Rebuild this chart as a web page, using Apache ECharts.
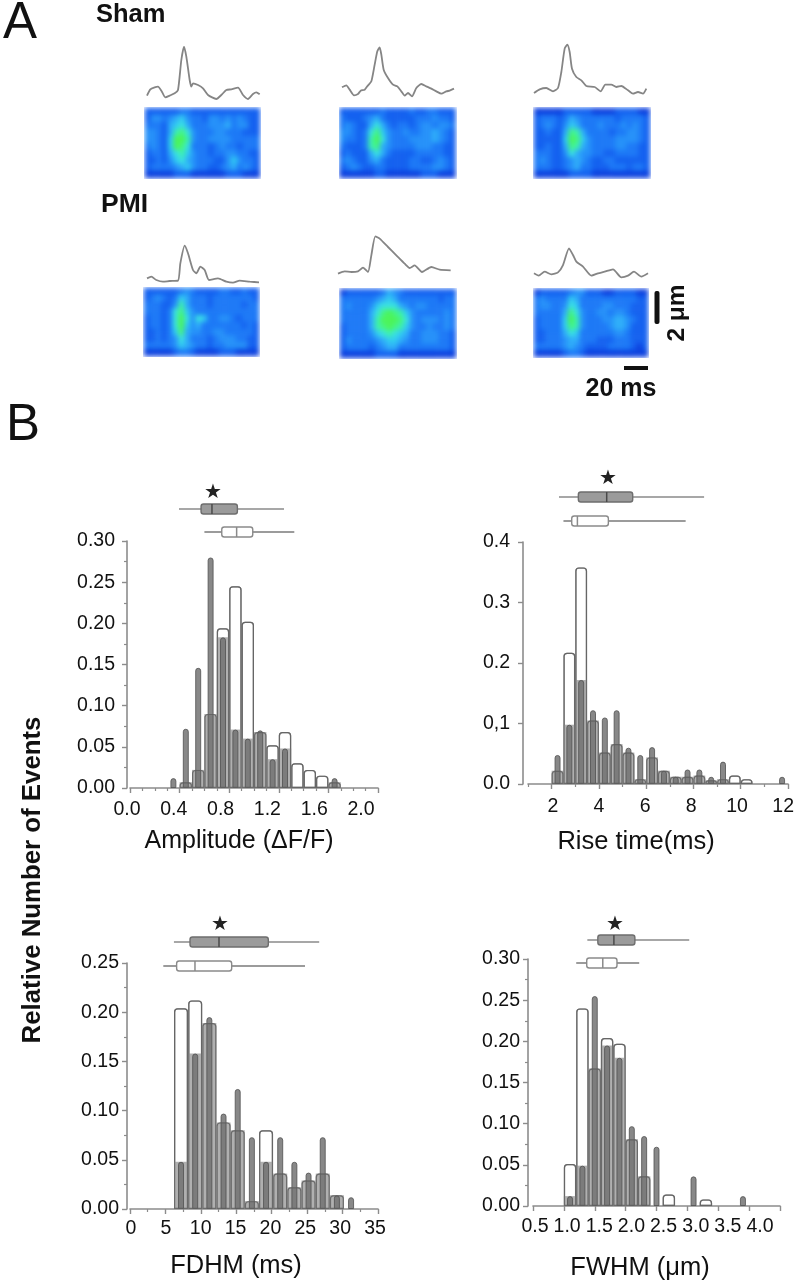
<!DOCTYPE html>
<html><head><meta charset="utf-8">
<style>html,body{margin:0;padding:0;background:#fff;width:797px;height:1280px;overflow:hidden}
#clip{position:absolute;left:0;top:0;width:797px;height:400px;clip-path:path('M144 107H261V179H144Z M339 107H457V179H339Z M533 107H651V179H533Z M143 287H260V357H143Z M339 288H457V359H339Z M533 288H649V358H533Z')}
#heat{position:absolute;left:0;top:0;width:797px;height:400px;filter:blur(2.6px) saturate(1.1)}
#main{position:absolute;left:0;top:0;width:797px;height:1280px;filter:blur(.4px)}</style>
<script src="https://cdn.jsdelivr.net/npm/echarts@6/dist/echarts.min.js"></script>
</head><body><div id="clip"><div id="heat"></div></div><div id="main"></div>
<script>
// ---------- Histogram data ----------
const ampBins=[.35,.45,.55,.65,.75,.85,.95,1.05,1.15,1.25,1.35,1.45,1.55,1.65];
const ampSham=[0,.007,.022,.09,.194,.245,.202,.068,.052,.068,.03,.022,.015,.007];
const ampPmi=[.012,.072,.146,.28,.183,.071,.06,.07,.035,.048,0,0,0,.012];
const ampXLabels=['0.0','0.4','0.8','1.2','1.6','2.0'];
const ampYLabels=['0.00','0.05','0.10','0.15','0.20','0.25','0.30'];
const ampBoxPmi=[.395,.573,.661,.866,1.242];
const ampBoxSham=[.60,.74,.86,.99,1.325];

const riseBins=[2.25,2.75,3.25,3.75,4.25,4.75,5.25,5.75,6.25,6.75,7.25,7.75,8.25,8.75,9.25,9.75,10.25,10.75,11.25,11.75];
const riseSham=[.022,.217,.358,.105,.052,.066,.052,.008,.044,.022,.012,.012,.014,.006,.008,.014,.008,0,0,0];
const risePmi=[.048,.098,.172,.122,.11,.122,.06,.048,.061,.022,.012,.024,.024,.012,.037,0,0,0,0,.012];
const riseXLabels=['2','4','6','8','10','12'];
const riseYLabels=['0.0','0,1','0.2','0.3','0.4'];
const riseBoxPmi=[2.31,3.13,4.33,5.43,8.45];
const riseBoxSham=[2.5,2.85,3.09,4.4,7.67];

const fdhmBins=[7.2,9.2,11.2,13.2,15.2,17.2,19.2,21.2,23.2,25.2,27.2,29.2,31.2];
const fdhmSham=[.204,.212,.189,.088,.08,.008,.08,.036,.022,.029,.036,.014,0];
const fdhmPmi=[.048,.158,.195,.097,.122,.073,.048,.073,.048,.037,.073,.014,.012];
const fdhmXLabels=['0','5','10','15','20','25','30','35'];
const fdhmYLabels=['0.00','0.05','0.10','0.15','0.20','0.25'];
const fdhmBoxPmi=[6.2,8.47,12.56,19.52,26.7];
const fdhmBoxSham=[4.7,6.58,9.17,14.35,24.7];

const fwhmBins=[1.1,1.3,1.5,1.7,1.9,2.1,2.3,2.5,2.7,2.9,3.1,3.3,3.5,3.7,3.9];
const fwhmSham=[.051,.24,.167,.204,.197,.081,.036,0,.014,0,0,.008,0,0,0];
const fwhmPmi=[.012,.049,.255,.195,.18,.097,.085,.072,0,0,.036,0,0,0,.012];
const fwhmXLabels=['0.5','1.0','1.5','2.0','2.5','3.0','3.5','4.0'];
const fwhmYLabels=['0.00','0.05','0.10','0.15','0.20','0.25','0.30'];
const fwhmBoxPmi=[1.38,1.55,1.81,2.15,3.03];
const fwhmBoxSham=[1.2,1.37,1.63,1.86,2.22];

// ---------- Line-scan traces (time, fluorescence; arbitrary units) ----------
const traceT1=[0,10,23,33,43,55,68,83,93,103,111,118,128,133,138,153,168,183,208,223,238,253,273,288,303,318,328,338];
const traceF1=[13,32,38,40,28,8,13,20,30,120,160,130,60,40,50,45,35,15,3,15,30,32,37,15,3,18,23,17];
const traceT2=[0,13,23,36,48,56,68,78,88,98,106,113,118,125,138,153,166,178,188,198,210,223,238,253,268,283,298,313,323,336];
const traceF2=[32,38,25,8,12,22,25,38,50,100,140,152,130,85,60,40,35,20,7,15,5,30,42,35,28,20,13,20,22,28];
const traceT3=[0,17,37,57,72,82,92,100,107,114,127,142,157,182,200,214,232,247,262,282,297,312,327,337];
const traceF3=[12,23,27,17,27,75,145,157,135,85,60,50,33,30,17,37,37,30,33,20,10,15,10,25];
const traceT4=[0,13,28,48,68,93,100,113,123,138,148,160,173,186,213,238,258,278,308,336];
const traceF4=[20,25,15,10,12,13,65,118,95,45,35,55,45,15,20,10,7,13,10,8];
const traceT5=[0,20,40,60,75,90,100,112,125,150,175,200,215,230,252,280,305,338];
const traceF5=[10,17,15,17,28,15,65,122,115,90,65,40,27,35,15,30,22,20];
const traceT6=[0,14,32,52,72,87,105,117,127,147,172,192,212,237,262,282,300,322,342];
const traceF6=[20,13,25,17,23,45,95,75,55,40,13,20,25,32,8,13,25,10,20];

// ---------- Confocal line-scan images (digit = intensity level 0-9) ----------
const heat1=["11111122111111111111","13323453221332323211","22214564222333423311","33214786322233222111","33215997322333322222","23215986222123221222","12214675322122332211","11213564322211353221","12222345322112342321","00000111000000111000"];
const heat2=["11111112111121122111","21112342111112223221","23211464212212332332","33212685322322334321","32212796322233334321","21112784322223332211","12111464211112222211","23211342111122112321","12321122111122223321","00000011000000111000"];
const heat3=["00000111110000111100","12221243222222122221","12321354222322232321","11211487422221223321","11111598532222333321","11211487432222332211","22211364332211222211","23211234321122111111","22211234221112221221","00000011110000000000"];
const heat4=["11111123211112211211","12321254222122222221","22211374222122222122","22212685322222222222","12212696365223321222","12212695342222222121","11212584332233222221","11212364222123332211","22222354322122333311","00000122100001110000"];
const heat5=["01111112432111111111","22222234542222222122","23222356664323322222","22222468987532222232","22222479998632333232","12222478987532232232","12222356765422333221","13222234554322333221","12222123442222222221","00000011110000000000"];
const heat6=["01111123311100111100","23222254222222222211","23322365222233222111","22222486322332332111","12222597322233443211","12222587322223443111","11222465222222332111","11222344222111222111","22222343211112222101","00000122100000000000"];
const heatColors=['#1040d0','#1a60e2','#2478ea','#2e90ee','#38acf0','#3cc8eb','#46e0dc','#48ecb0','#50f088','#55f060'];

// ---------- Layout ----------
const FONT='"Liberation Sans",Arial,sans-serif';
const AXIS='#8c8c8c';
const panels=[
 {bins:ampBins,sham:ampSham,pmi:ampPmi,xl:ampXLabels,yl:ampYLabels,bp:ampBoxPmi,bs:ampBoxSham,
  left:130,right:378,top:541,bottom:788,xmin:0,xmax:2,xint:.4,xMinor:4,ymax:.3,yint:.05,yMinor:2,yOff:3,yMargin:12,
  labL:127,labR:361,labM:12,wS:12.4,wP:6,rowP:509,rowS:532,star:[213,493]},
 {bins:riseBins,sham:riseSham,pmi:risePmi,xl:riseXLabels,yl:riseYLabels,bp:riseBoxPmi,bs:riseBoxSham,
  left:528,right:788,top:542,bottom:784,xmin:1,xmax:12,xCustom:[2,4,6,8,10,12],xMinorCustom:[1,3,5,7,9,11],ymax:.4,yint:.1,yMinor:1,yOff:5,yMargin:13,
  labL:553,labR:787,labM:13,wS:11.8,wP:6,rowP:497,rowS:521,star:[608,479]},
 {bins:fdhmBins,sham:fdhmSham,pmi:fdhmPmi,xl:fdhmXLabels,yl:fdhmYLabels,bp:fdhmBoxPmi,bs:fdhmBoxSham,
  left:130,right:378,top:963,bottom:1209,xmin:0,xmax:35,xint:5,xMinor:2,ymax:.25,yint:.05,yMinor:2,yOff:3,yMargin:8,
  labL:131,labR:375,labM:10,wS:14,wP:6,rowP:942,rowS:966,star:[220,925]},
 {bins:fwhmBins,sham:fwhmSham,pmi:fwhmPmi,xl:fwhmXLabels,yl:fwhmYLabels,bp:fwhmBoxPmi,bs:fwhmBoxSham,
  left:533,right:780,top:959,bottom:1206,xmin:.5,xmax:4.5,xint:.5,xMinor:1,ymax:.3,yint:.05,yMinor:2,yOff:5,yMargin:8,
  labL:535,labR:760,labM:11,wS:12.4,wP:6,rowP:940,rowS:963,star:[615,925]}
];
const traces=[
 {t:traceT1,f:traceF1,left:147,bottom:100},{t:traceT2,f:traceF2,left:342,bottom:98},{t:traceT3,f:traceF3,left:534,bottom:97},
 {t:traceT4,f:traceF4,left:147,bottom:285},{t:traceT5,f:traceF5,left:338,bottom:277},{t:traceT6,f:traceF6,left:534,bottom:280}];
const heats=[
 {d:heat1,x:145,y:108,w:115,h:70},{d:heat2,x:339.5,y:108,w:116,h:70},{d:heat3,x:534,y:108,w:116,h:70},
 {d:heat4,x:144,y:288,w:115,h:68},{d:heat5,x:340,y:289,w:116,h:69},{d:heat6,x:534,y:289,w:114,h:68}];

// ---------- Main chart ----------
const grid=[],xAxis=[],yAxis=[],series=[];
const hiddenVal=(extra)=>Object.assign({type:'value',show:false,scale:true},extra);
function addGrid(l,t,w,h){grid.push({left:l,top:t,width:w,height:h,containLabel:false});return grid.length-1;}

traces.forEach(tr=>{
  const g=addGrid(tr.left,tr.bottom-60,115,60);
  xAxis.push(hiddenVal({gridIndex:g,min:0,max:345}));
  yAxis.push(hiddenVal({gridIndex:g,min:0,max:180}));
  series.push({type:'line',xAxisIndex:xAxis.length-1,yAxisIndex:yAxis.length-1,showSymbol:false,smooth:.2,
    lineStyle:{color:'#858585',width:1.8},silent:true,data:tr.t.map((v,i)=>[v,tr.f[i]])});
});

const pairs=(b,v)=>b.map((x,i)=>[x,v[i]>0?v[i]:null]);
const axLine={lineStyle:{color:AXIS,width:1.6}};
panels.forEach(p=>{
  const w=p.right-p.left,h=p.bottom-p.top;
  const g=addGrid(p.left,p.top,w,h);
  const major={length:5,lineStyle:{color:AXIS,width:1.4}};
  if(p.xCustom) major.customValues=p.xCustom;
  xAxis.push({type:'value',gridIndex:g,min:p.xmin,max:p.xmax,interval:p.xint,position:'bottom',splitLine:{show:false},
    axisLine:Object.assign({onZero:false},axLine),axisTick:major,axisLabel:{show:false},
    minorTick:p.xMinor>1?{show:true,splitNumber:p.xMinor,length:3,lineStyle:{color:AXIS,width:1.2}}:{show:false}});
  const xS=xAxis.length-1;
  const pmiTick=p.xMinorCustom?{show:true,customValues:p.xMinorCustom,length:3,lineStyle:{color:AXIS,width:1.2}}:{show:false};
  xAxis.push({type:'value',gridIndex:g,min:p.xmin,max:p.xmax,position:'bottom',splitLine:{show:false},
    axisLine:{show:false,onZero:false},axisTick:pmiTick,axisLabel:{show:false}});
  const xP=xAxis.length-1;
  yAxis.push({type:'value',gridIndex:g,min:0,max:p.ymax,interval:p.yint,offset:p.yOff,splitLine:{show:false},
    axisLine:{show:true,onZero:false,lineStyle:{color:AXIS,width:1.6}},
    axisTick:{show:true,length:5,lineStyle:{color:AXIS,width:1.4}},
    minorTick:p.yMinor>1?{show:true,splitNumber:p.yMinor,length:3,lineStyle:{color:AXIS,width:1.2}}:{show:false},
    axisLabel:{margin:p.yMargin,fontFamily:FONT,fontSize:19.5,color:'#111',showMinLabel:true,showMaxLabel:true,
      formatter:v=>p.yl[Math.round(v/p.yint)]}});
  const y=yAxis.length-1;
  const common={type:'bar',xAxisIndex:xS,yAxisIndex:y,barGap:'-100%',barWidth:p.wS,silent:true,animation:false};
  series.push(Object.assign({},common,{name:'Sham',z:2,data:pairs(p.bins,p.sham),
    itemStyle:{color:'#fff',borderColor:'#8a8a8a',borderWidth:1.3,borderRadius:[3,3,0,0]}}));
  series.push(Object.assign({},common,{name:'Overlap',z:3,data:pairs(p.bins,p.sham.map((v,i)=>Math.min(v,p.pmi[i]))),
    itemStyle:{color:'#b0b0b0',borderWidth:0}}));
  series.push({type:'bar',xAxisIndex:xP,yAxisIndex:y,barWidth:p.wP,silent:true,name:'PMI',z:4,data:pairs(p.bins,p.pmi),
    itemStyle:{color:'rgba(115,115,115,.85)',borderColor:'rgba(80,80,80,.8)',borderWidth:1,borderRadius:[3,3,0,0]}});
  series.push(Object.assign({},common,{name:'Sham outline',z:5,data:pairs(p.bins,p.sham),
    itemStyle:{color:'rgba(0,0,0,0)',borderColor:'rgba(95,95,95,.85)',borderWidth:1.2,borderRadius:[3,3,0,0]}}));

  const gl=addGrid(p.labL,p.bottom-10,p.labR-p.labL,10);
  xAxis.push({type:'category',gridIndex:gl,boundaryGap:false,data:p.xl,axisLine:{show:false},axisTick:{show:false},splitLine:{show:false},
    axisLabel:{margin:p.labM,interval:0,fontFamily:FONT,fontSize:19.5,color:'#111'}});
  yAxis.push(hiddenVal({gridIndex:gl,min:0,max:1}));

  const d=p.rowS-p.rowP;
  const gb=addGrid(p.left,p.rowP-d/2,w,2*d);
  xAxis.push(hiddenVal({gridIndex:gb,min:p.xmin,max:p.xmax}));
  yAxis.push({type:'category',gridIndex:gb,show:false,inverse:true,data:['PMI','Sham']});
  series.push({type:'custom',xAxisIndex:xAxis.length-1,yAxisIndex:yAxis.length-1,silent:true,clip:false,
    data:[[0].concat(p.bp),[1].concat(p.bs)],
    encode:{x:[1,2,3,4,5],y:0},
    renderItem:(params,api)=>{
      const row=api.value(0),pm=row===0;
      const c=i=>api.coord([api.value(i),row]);
      const mn=c(1),q1=c(2),md=c(3),q3=c(4),mx=c(5),cy=mn[1];
      const line={stroke:pm?'#8a8a8a':'#7a7a7a',lineWidth:1.5};
      return {type:'group',children:[
        {type:'line',shape:{x1:mn[0],y1:cy,x2:mx[0],y2:cy},style:line},
        {type:'rect',shape:{x:q1[0],y:cy-5,width:q3[0]-q1[0],height:10,r:2.5},
          style:{fill:pm?'#9b9b9b':'#fff',stroke:pm?'#6e6e6e':'#8a8a8a',lineWidth:1.4}},
        {type:'line',shape:{x1:md[0],y1:cy-5,x2:md[0],y2:cy+5},style:{stroke:pm?'#4a4a4a':'#8a8a8a',lineWidth:1.5}}
      ]};
    }});
});

// ---------- Text and scale bars ----------
const txt=(x,y,text,size,opt={})=>Object.assign({type:'text',x,y,rotation:opt.rot||0,silent:true,
  style:{text,fontFamily:opt.family||FONT,fontSize:size,fontWeight:opt.weight||'normal',fill:opt.fill||'#111',align:opt.align||'center',verticalAlign:'middle'}});
const graphic=[
  txt(20,24,'A',51),txt(23,426,'B',51),
  txt(96,15,'Sham',25.5,{weight:'bold',align:'left'}),
  txt(101,205,'PMI',26.5,{weight:'bold',align:'left'}),
  txt(621,389,'20 ms',25,{weight:'bold'}),
  txt(677,313,'2 μm',24.5,{weight:'bold',rot:Math.PI/2}),
  txt(33,880,'Relative Number of Events',25.8,{weight:'bold',rot:Math.PI/2}),
  txt(239,841,'Amplitude (ΔF/F)',25),
  txt(636,842,'Rise time(ms)',25.5),
  txt(236,1266,'FDHM (ms)',25.5),
  txt(640,1268,'FWHM (μm)',25.5),
  {type:'rect',silent:true,shape:{x:654.5,y:291,width:5,height:33,r:2},style:{fill:'#111'}},
  {type:'rect',silent:true,shape:{x:624,y:366,width:24,height:4},style:{fill:'#111'}}
];
panels.forEach(p=>graphic.push(txt(p.star[0],p.star[1],'★',20,{family:'"DejaVu Sans"',fill:'#222'})));

const chart=echarts.init(document.getElementById('main'),null,{renderer:'canvas'});
chart.setOption({animation:false,backgroundColor:'transparent',grid,xAxis,yAxis,series,graphic});

// ---------- Heat images ----------
const hGrid=[],hX=[],hY=[],hS=[];
const cols=[...Array(20).keys()].map(String),rows=[...Array(10).keys()].map(String);
heats.forEach((m,i)=>{
  hGrid.push({left:m.x,top:m.y,width:m.w,height:m.h});
  hX.push({type:'category',gridIndex:i,show:false,data:cols});
  hY.push({type:'category',gridIndex:i,show:false,inverse:true,data:rows});
  const data=[];
  m.d.forEach((r,ry)=>[...r].forEach((c,cx)=>data.push([cx,ry,+c])));
  hS.push({type:'heatmap',xAxisIndex:i,yAxisIndex:i,data,silent:true,progressive:0});
});
const hc=echarts.init(document.getElementById('heat'),null,{renderer:'canvas'});
hc.setOption({animation:false,grid:hGrid,xAxis:hX,yAxis:hY,series:hS,
  visualMap:{show:false,min:0,max:9,inRange:{color:heatColors}}});
</script></body></html>
